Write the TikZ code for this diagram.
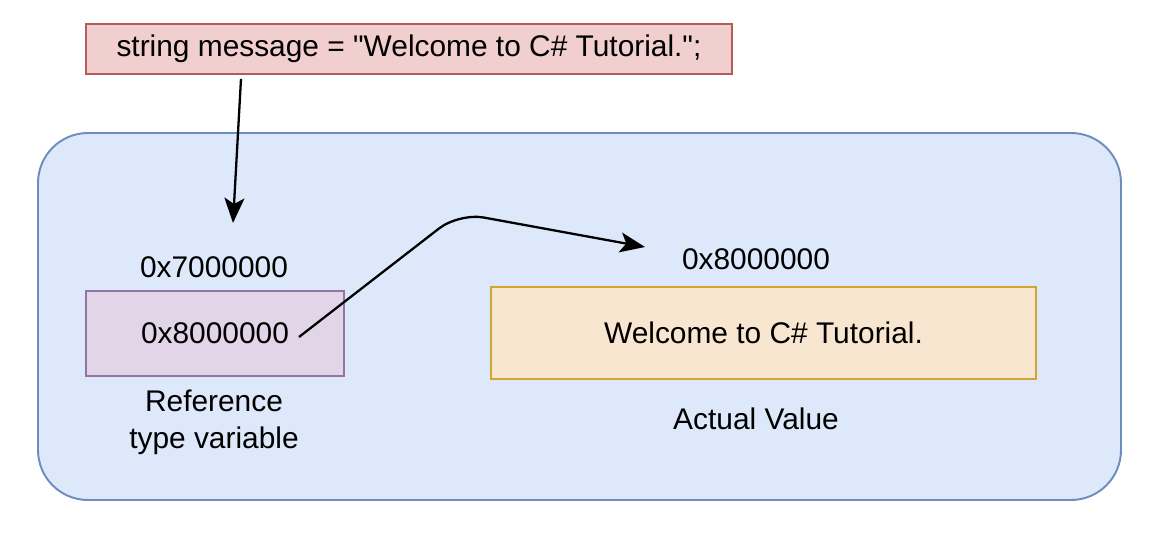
\documentclass[tikz,border=0pt]{standalone}
\usepackage{fontspec}
\setmainfont{Liberation Sans}[Ligatures=TeXOff]
\usetikzlibrary{arrows.meta}

\definecolor{msgfill}{HTML}{F0CFCE}
\definecolor{msgdraw}{HTML}{B35C58}
\definecolor{heapfill}{HTML}{DDE8FA}
\definecolor{heapdraw}{HTML}{6C8EBF}
\definecolor{reffill}{HTML}{E1D5E7}
\definecolor{refdraw}{HTML}{9673A6}
\definecolor{valfill}{HTML}{F9E6D0}
\definecolor{valdraw}{HTML}{D0A530}

\tikzset{arrow/.style={-{Stealth[length=0.5cm, width=0.4cm, inset=0.12cm]}, line width=1.3pt, draw=black}}
\tikzset{cell/.style={line width=1.1pt, inner sep=0pt, font=\fontsize{17}{20.5}\selectfont}}
\tikzset{label/.style={align=center, inner sep=0pt, font=\fontsize{17}{21}\selectfont}}

\begin{document}
\begin{tikzpicture}
            \useasboundingbox (0,0) rectangle (23.06,-10.8);
            \draw[fill=heapfill, draw=heapdraw, line width=1.1pt, rounded corners=1.0cm] (0.76,-2.66) rectangle (22.42,-10.0);
            \node[cell, fill=msgfill, draw=msgdraw, minimum width=12.92cm, minimum height=1.0cm] (msg) at (8.18,-0.98) {string message = "Welcome to C\# Tutorial.";};
            \node[cell, fill=reffill, draw=refdraw, minimum width=5.16cm, minimum height=1.7cm] (ref) at (4.30,-6.67) {0x8000000};
            \node[cell, fill=valfill, draw=valdraw, minimum width=10.9cm, minimum height=1.84cm] (val) at (15.27,-6.66) {Welcome to C\# Tutorial.};
            \node[label] (refaddr) at (4.28,-5.34) {0x7000000};
            \node[label] (valaddr) at (15.12,-5.18) {0x8000000};
            \node[label] (refname) at (4.28,-8.44) {Reference\\type variable};
            \node[label] (valname) at (15.12,-8.38) {Actual Value};
            \coordinate (refin) at (4.66,-4.46);
            \coordinate (valin) at (12.90,-4.94);
            \draw[arrow] ([xshift=-3.36cm,yshift=-0.08cm]msg.south) -- (refin);
            \draw[arrow, rounded corners=0.5cm] ([xshift=1.68cm,yshift=-0.07cm]ref.center) -- (9.18,-4.26) -- (valin);
        \end{tikzpicture}
\end{document}
